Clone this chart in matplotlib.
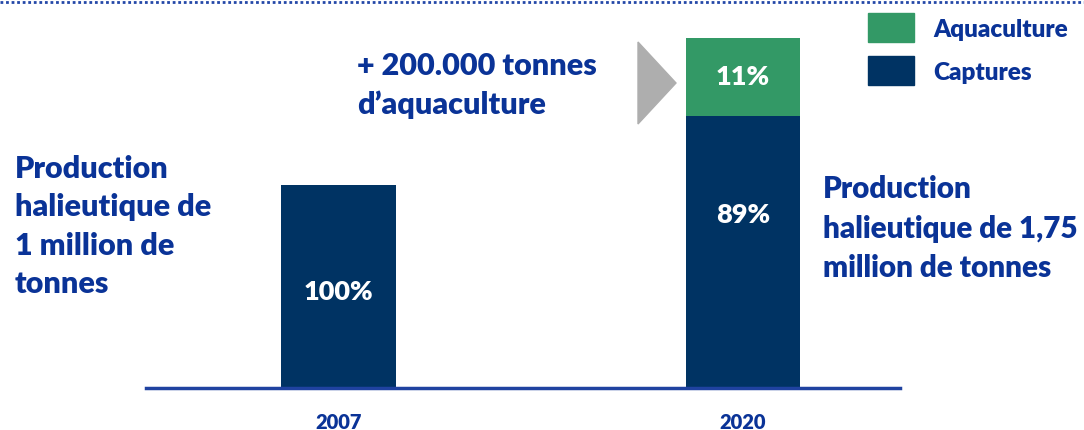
import matplotlib
matplotlib.use("Agg")
import matplotlib.pyplot as plt
from matplotlib.patches import Polygon
from matplotlib.lines import Line2D

# ---- data (heights as drawn, million tonnes) ----
years = ["2007", "2020"]
captures = [1.0, 1.34]
aquaculture = [0.0, 0.385]
pct_captures = ["100%", "89%"]
pct_aqua = ["", "11%"]
series_names = ["Aquaculture", "Captures"]

NAVY = "#003363"
GREEN = "#339966"
TXT = "#0A3397"
FONT = "Lato"
WGT = "heavy"

W, H = 1084, 430
fig = plt.figure(figsize=(W / 100, H / 100), dpi=100)

def fx(px):
    return px / W

def fy(py):
    return 1 - py / H

# axes placement (pixels)
ax_left, ax_right = 146, 900
base_y = 388
ppu = 203.0  # pixels per unit
ymax = 1.9
ax = fig.add_axes([fx(ax_left), fy(base_y), (ax_right - ax_left) / W, ymax * ppu / H])
ax.set_xlim(-0.476, 1.388)
ax.set_ylim(0, ymax)

xs = list(range(len(years)))
bw = 0.284
ax.bar(xs, captures, width=bw, color=NAVY, zorder=2)
ax.bar(xs, aquaculture, width=bw, bottom=captures, color=GREEN, zorder=2)

for x, c, a, pc, pa in zip(xs, captures, aquaculture, pct_captures, pct_aqua):
    yc = c * 0.473 if a == 0 else c * 0.636
    ax.text(x, yc, pc, ha="center", va="center", color="white",
            fontsize=19.5, fontweight=WGT, family=FONT)
    if a > 0 and pa:
        ax.text(x, c + a / 2, pa, ha="center", va="center", color="white",
                fontsize=19.5, fontweight=WGT, family=FONT)

for s in ["top", "right", "left"]:
    ax.spines[s].set_visible(False)
ax.spines["bottom"].set_color("#1F42A0")
ax.spines["bottom"].set_linewidth(2.5)
ax.set_yticks([])
ax.set_xticks(xs)
ax.set_xticklabels(years)
ax.tick_params(axis="x", length=0, pad=18)
for lab in ax.get_xticklabels():
    lab.set_fontsize(14.5)
    lab.set_fontweight(WGT)
    lab.set_color(TXT)
    lab.set_family(FONT)

# annotations
big = 22
ls = 1.45
fig.text(fx(15), fy(155), "Production\nhalieutique de\n1 million de\ntonnes",
         ha="left", va="top", color=TXT, fontsize=big, fontweight=WGT,
         family=FONT, linespacing=ls)
fig.text(fx(823), fy(175), "Production\nhalieutique de 1,75\nmillion de tonnes",
         ha="left", va="top", color=TXT, fontsize=21.3, fontweight=WGT,
         family=FONT, linespacing=1.5)
fig.text(fx(357), fy(52), "+ 200.000 tonnes\nd\u2019aquaculture",
         ha="left", va="top", color=TXT, fontsize=big, fontweight=WGT,
         family=FONT, linespacing=ls)

# arrow
tri = Polygon([[fx(638), fy(42)], [fx(676), fy(83)], [fx(638), fy(124)]],
              closed=True, transform=fig.transFigure, color="#AEAEAE", zorder=1)
fig.patches.append(tri)

# legend
legend_colors = [GREEN, NAVY]
legend_y = [13, 56]
for name, col, y0 in zip(series_names, legend_colors, legend_y):
    sq = Polygon([[fx(868), fy(y0)], [fx(914), fy(y0)], [fx(914), fy(y0 + 29)], [fx(868), fy(y0 + 29)]],
                 closed=True, transform=fig.transFigure, color=col)
    fig.patches.append(sq)
    fig.text(fx(933), fy(y0 + 17), name, ha="left", va="center", color=TXT,
             fontsize=17.5, fontweight=WGT, family=FONT)

# top dotted border
fig.add_artist(Line2D([0, 1], [fy(1.5), fy(1.5)], transform=fig.transFigure,
                      color="#2448A8", linewidth=2, linestyle=(0, (1, 1))))

fig.savefig("out.png", dpi=100)
